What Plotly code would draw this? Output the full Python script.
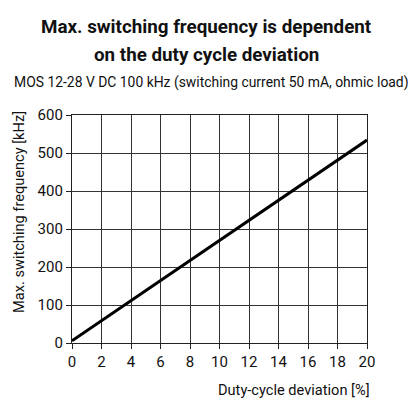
## import packages
import plotly.graph_objects as go


## data
duty_cycle = [0, 2, 4, 6, 8, 10, 12, 14, 16, 18, 20]
max_frequency = [6, 59, 112, 165, 217, 270, 323, 376, 429, 481, 534]

x_ticks = [0, 2, 4, 6, 8, 10, 12, 14, 16, 18, 20]
y_ticks = [0, 100, 200, 300, 400, 500, 600]

font_family = "Roboto, Liberation Sans, sans-serif"
# the page has an 8 px body margin, so the figure is drawn from (8, 8)
OFF = 8
W, H = 416 - OFF, 416 - OFF
L, R, T, B = 72 - OFF, 49, 115 - OFF, 73


def px_x(p):
    return (p - OFF - L) / (W - L - R)


def px_y(p):
    return (H - B - (p - OFF)) / (H - T - B)


## chart
fig = go.Figure()

fig.add_trace(
    go.Scatter(
        x=duty_cycle,
        y=max_frequency,
        mode='lines',
        line=dict(color='black', width=3),
        hoverinfo='skip',
    )
)

axis_style = dict(
    showgrid=True,
    gridcolor='#333',
    gridwidth=1,
    showline=True,
    linecolor='#222',
    linewidth=1.2,
    mirror=True,
    ticks='outside',
    ticklen=5,
    tickcolor='#222',
    zeroline=False,
    tickfont=dict(family=font_family, size=15, color='#111'),
)

fig.update_xaxes(range=[0, 20], tickvals=x_ticks, **axis_style)
fig.update_yaxes(range=[0, 600], tickvals=y_ticks, **axis_style)

# titles as annotations so they sit where the original has them
texts = [
    dict(text="<b>Max. switching frequency is dependent</b>", x=px_x(206), y=px_y(27), size=18.8,
         xanchor='center'),
    dict(text="<b>on the duty cycle deviation</b>", x=px_x(206), y=px_y(55), size=18.8,
         xanchor='center'),
    dict(text="MOS 12-28 V DC 100 kHz (switching current 50 mA, ohmic load)", x=px_x(211),
         y=px_y(82), size=13.9, xanchor='center'),
    dict(text="Duty-cycle deviation [%]", x=px_x(372), y=px_y(390), size=14.6, xanchor='right'),
]
for t in texts:
    fig.add_annotation(
        text=t['text'], x=t['x'], y=t['y'], xref='paper', yref='paper',
        xanchor=t['xanchor'], yanchor='middle', showarrow=False,
        font=dict(family=font_family, size=t['size'], color='#111'),
    )

fig.add_annotation(
    text="Max. switching frequency [kHz]", x=px_x(19), y=px_y(212), xref='paper', yref='paper',
    xanchor='center', yanchor='middle', textangle=-90, showarrow=False,
    font=dict(family=font_family, size=14.6, color='#111'),
)

fig.update_layout(
    width=W,
    height=H,
    margin=dict(l=L, r=R, t=T, b=B),
    showlegend=False,
    paper_bgcolor='white',
    plot_bgcolor='white',
)

fig.write_html("out.html")
